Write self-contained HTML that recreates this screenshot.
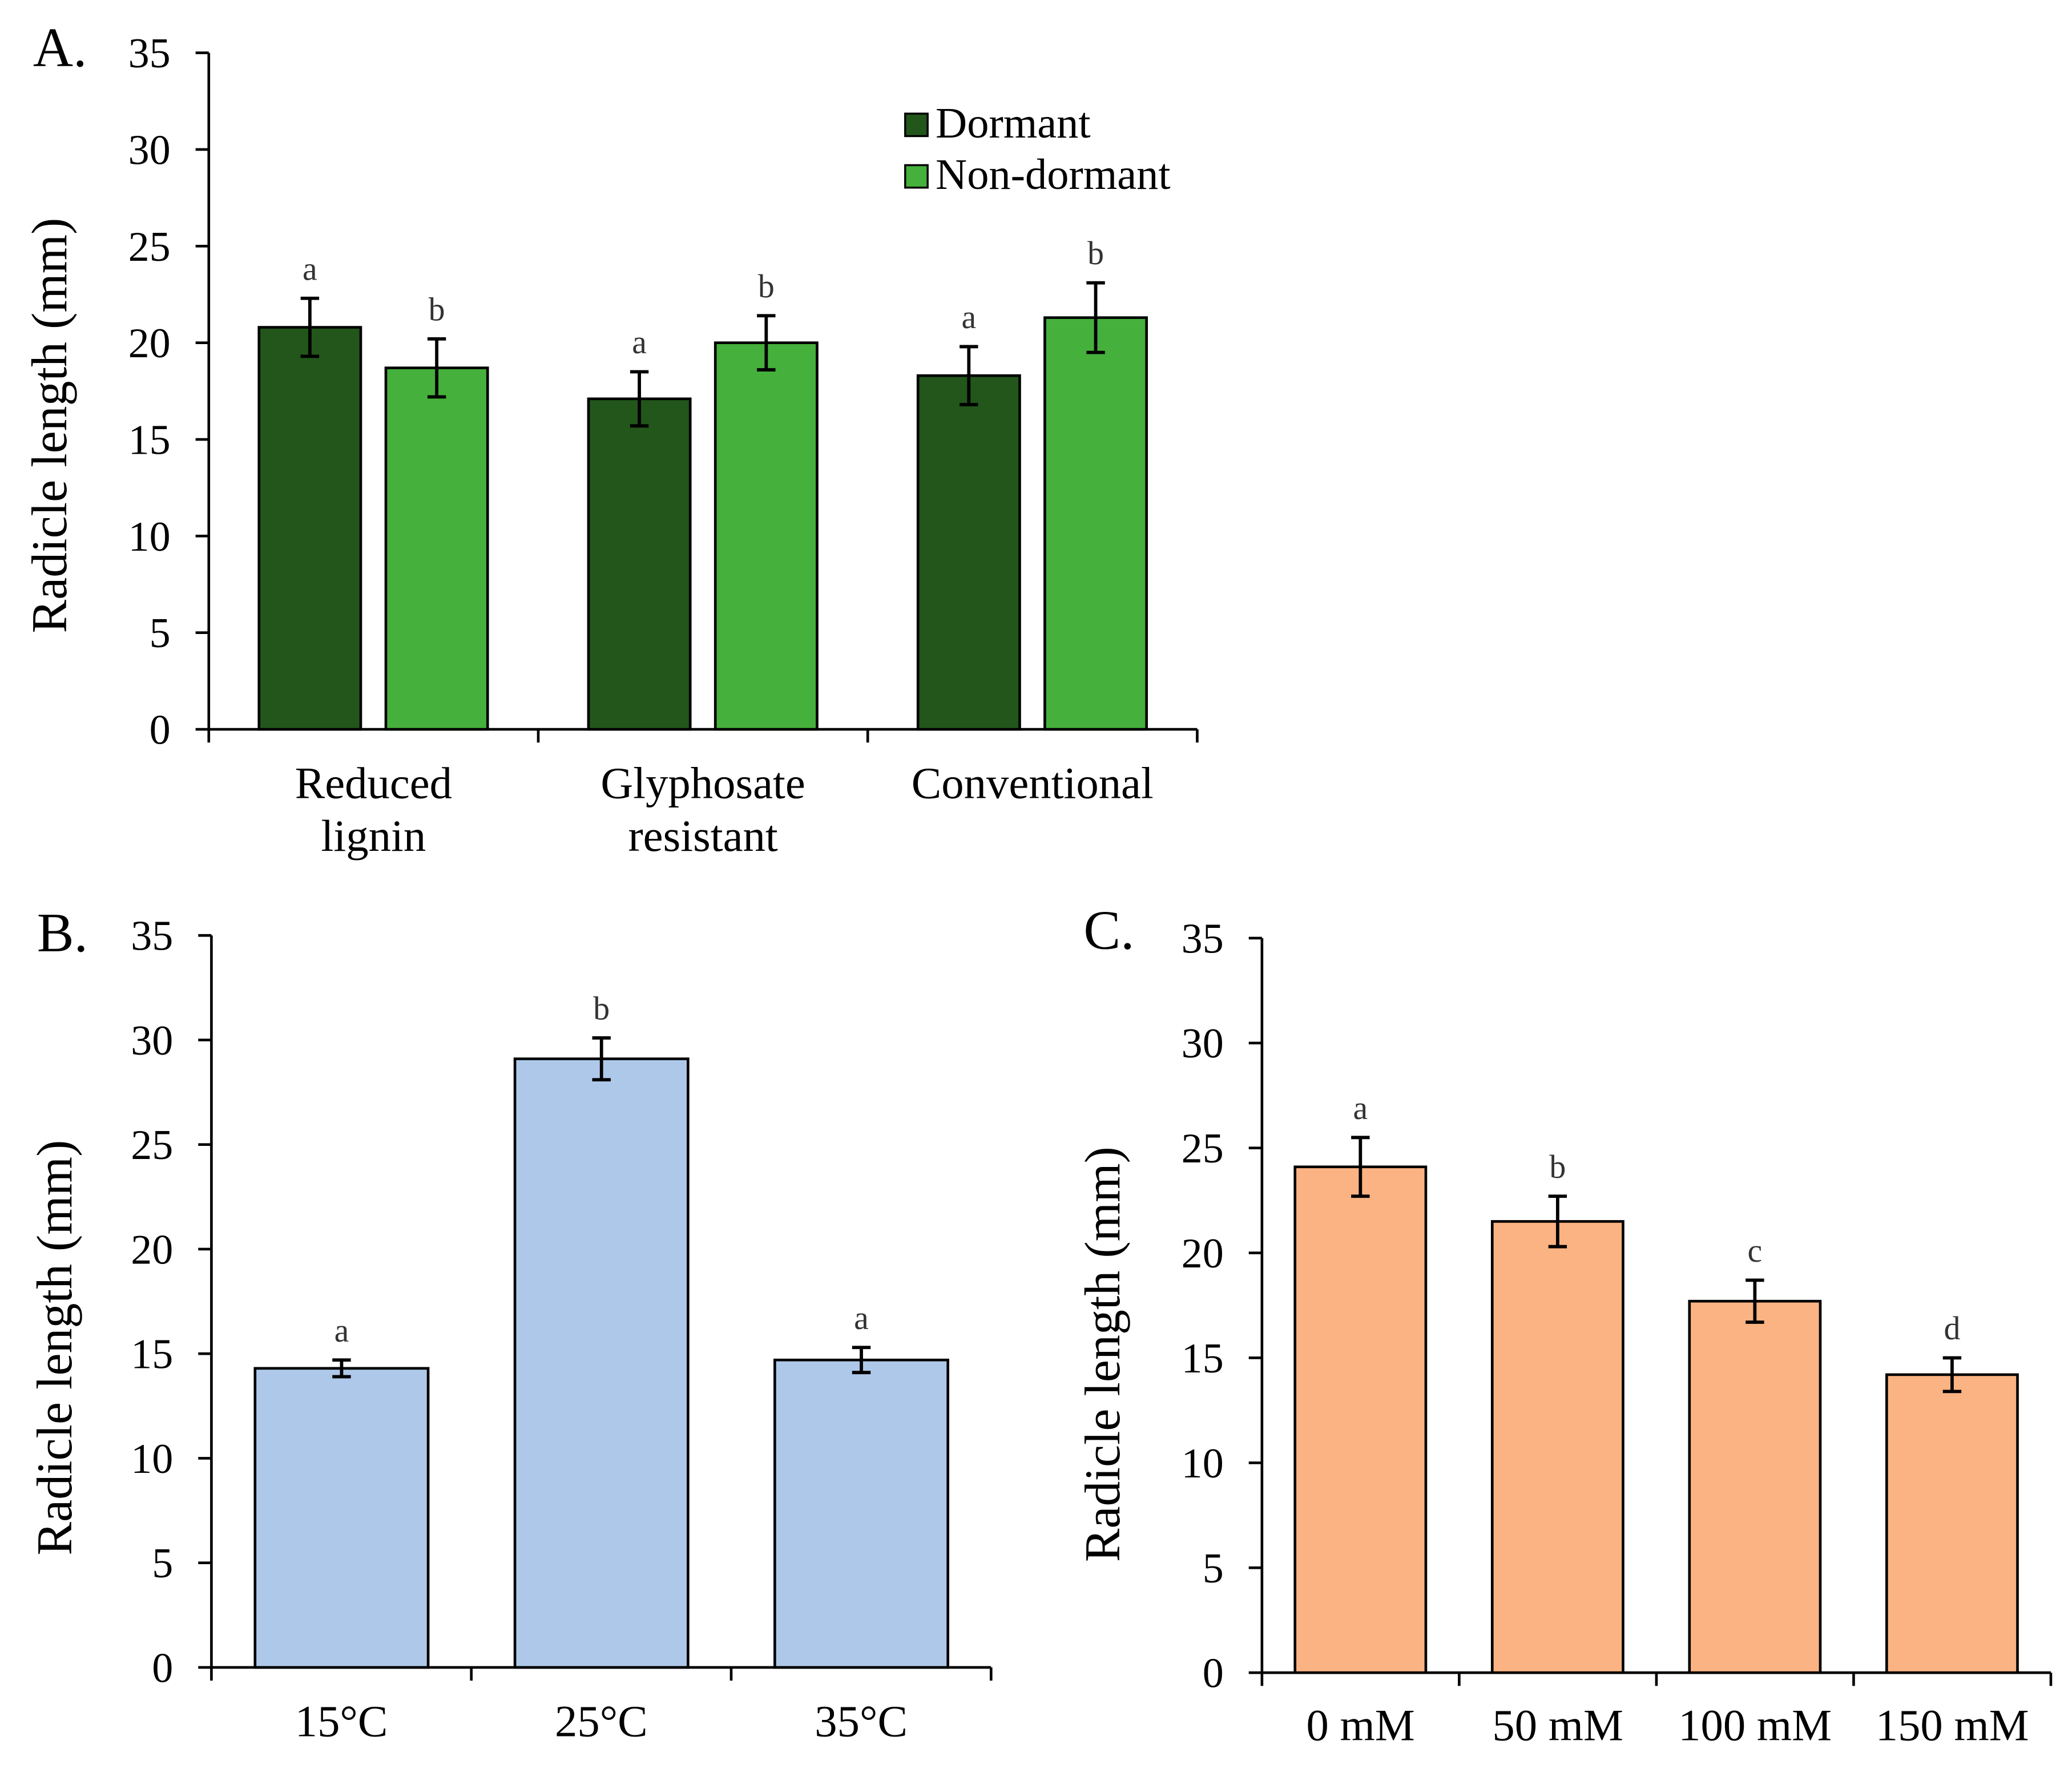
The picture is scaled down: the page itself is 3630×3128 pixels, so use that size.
<!DOCTYPE html>
<html><head><meta charset="utf-8"><style>
html,body{margin:0;padding:0;background:#fff;}
svg{display:block;font-family:"Liberation Serif",serif;}
</style></head><body>
<svg id="fig" width="3630" height="3128" viewBox="0 0 1568 1351" preserveAspectRatio="none" xmlns="http://www.w3.org/2000/svg"></svg>
<script>
// Panel A data
const aCategories = [["Reduced","lignin"],["Glyphosate","resistant"],["Conventional"]];
const aDormant = [20.8, 17.1, 18.3];
const aDormantErr = [1.5, 1.4, 1.5];
const aNonDormant = [18.7, 20.0, 21.3];
const aNonDormantErr = [1.5, 1.4, 1.8];
const aDormantLetters = ["a","a","a"];
const aNonDormantLetters = ["b","b","b"];
// Panel B data
const bCategories = ["15°C","25°C","35°C"];
const bValues = [14.3, 29.1, 14.7];
const bErr = [0.4, 1.0, 0.6];
const bLetters = ["a","b","a"];
// Panel C data
const cCategories = ["0 mM","50 mM","100 mM","150 mM"];
const cValues = [24.1, 21.5, 17.7, 14.2];
const cErr = [1.4, 1.2, 1.0, 0.8];
const cLetters = ["a","b","c","d"];
const yTicks = [0,5,10,15,20,25,30,35];

const NS="http://www.w3.org/2000/svg";
const svg=document.getElementById('fig');
function mk(tag,attrs,parent){const e=document.createElementNS(NS,tag);for(const k in attrs)e.setAttribute(k,attrs[k]);(parent||svg).appendChild(e);return e;}
function txt(s,attrs,parent){const e=mk('text',attrs,parent);e.textContent=s;return e;}

function axes(p){
  const g=mk('g',{});
  
  
  const y=v=>p.y0-(v/35)*(p.y0-p.y35);
  mk('line',{x1:p.ax,y1:p.y35,x2:p.ax,y2:p.y0,stroke:'#000','stroke-width':2},g);
  mk('line',{x1:p.ax,y1:p.y0,x2:p.ax2,y2:p.y0,stroke:'#000','stroke-width':2},g);
  yTicks.forEach(t=>{
    mk('line',{x1:p.ax-10,y1:y(t),x2:p.ax,y2:y(t),stroke:'#000','stroke-width':2},g);
    const l=txt(String(t),{x:p.ax-29,y:y(t)+11,'font-size':32,'text-anchor':'end'},g);
    
    
  });
  const n=p.n;const gw=(p.ax2-p.ax)/n;
  for(let i=0;i<=n;i++){mk('line',{x1:p.ax+i*gw,y1:p.y0,x2:p.ax+i*gw,y2:p.y0+10,stroke:'#000','stroke-width':2},g);}
  const yt=txt('Radicle length (mm)',{x:0,y:0,'font-size':38,'text-anchor':'middle',transform:`translate(${p.ytx},${p.yty}) rotate(-90)`},g);
  
  
  const pl=txt(p.label,{x:p.lx,y:p.ly,'font-size':42},g);
  
  
  return {y,gw};
}
function bar(x,w,v,err,letter,color,y,name){
  const r=mk('rect',{x:x,y:y(v),width:w,height:y(0)-y(v),fill:color,stroke:'#000','stroke-width':2});
  
  
  const cx=x+w/2;
  const eb=mk('g',{stroke:'#000','stroke-width':2.5});
  
  
  mk('line',{x1:cx,y1:y(v+err),x2:cx,y2:y(v-err)},eb);
  mk('line',{x1:cx-7,y1:y(v+err),x2:cx+7,y2:y(v+err)},eb);
  mk('line',{x1:cx-7,y1:y(v-err),x2:cx+7,y2:y(v-err)},eb);
  const l=txt(letter,{x:cx,y:y(v+err)-14,'font-size':25,'text-anchor':'middle',fill:'#333'});
  
  
}

// Panel A
const A={name:'panel-a',ax:158,ax2:906,y0:552,y35:40,n:3,ytx:50,yty:322,label:'A.',lx:25,ly:50};
const a=axes(A);
aCategories.forEach((c,i)=>{
  const gx=A.ax+i*a.gw;
  bar(gx+38,77,aDormant[i],aDormantErr[i],aDormantLetters[i],'#22561b',a.y,'bar-dormant-'+i);
  bar(gx+134,77,aNonDormant[i],aNonDormantErr[i],aNonDormantLetters[i],'#45b03b',a.y,'bar-nondormant-'+i);
  c.forEach((line,j)=>{
    const t=txt(line,{x:gx+a.gw/2,y:604+j*40,'font-size':34,'text-anchor':'middle'});
    
    
  });
});
const leg=mk('g',{});


mk('rect',{x:685,y:86,width:17,height:17,fill:'#22561b',stroke:'#000','stroke-width':1.5},leg);
txt('Dormant',{x:708,y:104,'font-size':33},leg);
mk('rect',{x:685,y:125,width:17,height:17,fill:'#45b03b',stroke:'#000','stroke-width':1.5},leg);
txt('Non-dormant',{x:708,y:143,'font-size':33},leg);

// Panel B
const B={name:'panel-b',ax:160,ax2:750,y0:1262,y35:708,n:3,ytx:54,yty:1020,label:'B.',lx:28,ly:720};
const b=axes(B);
bCategories.forEach((c,i)=>{
  const gx=B.ax+i*b.gw;
  bar(gx+33,131,bValues[i],bErr[i],bLetters[i],'#aec8e9',b.y,'bar-temp-'+i);
  const t=txt(c,{x:gx+b.gw/2,y:1314,'font-size':34,'text-anchor':'middle'});
  
  
});

// Panel C
const C={name:'panel-c',ax:955,ax2:1552,y0:1266,y35:710,n:4,ytx:847,yty:1025,label:'C.',lx:820,ly:718};
const c=axes(C);
cCategories.forEach((cat,i)=>{
  const gx=C.ax+i*c.gw;
  bar(gx+25,99,cValues[i],cErr[i],cLetters[i],'#fbb383',c.y,'bar-salt-'+i);
  const t=txt(cat,{x:gx+c.gw/2,y:1317,'font-size':34,'text-anchor':'middle'});
  
  
});
</script>
</body></html>
